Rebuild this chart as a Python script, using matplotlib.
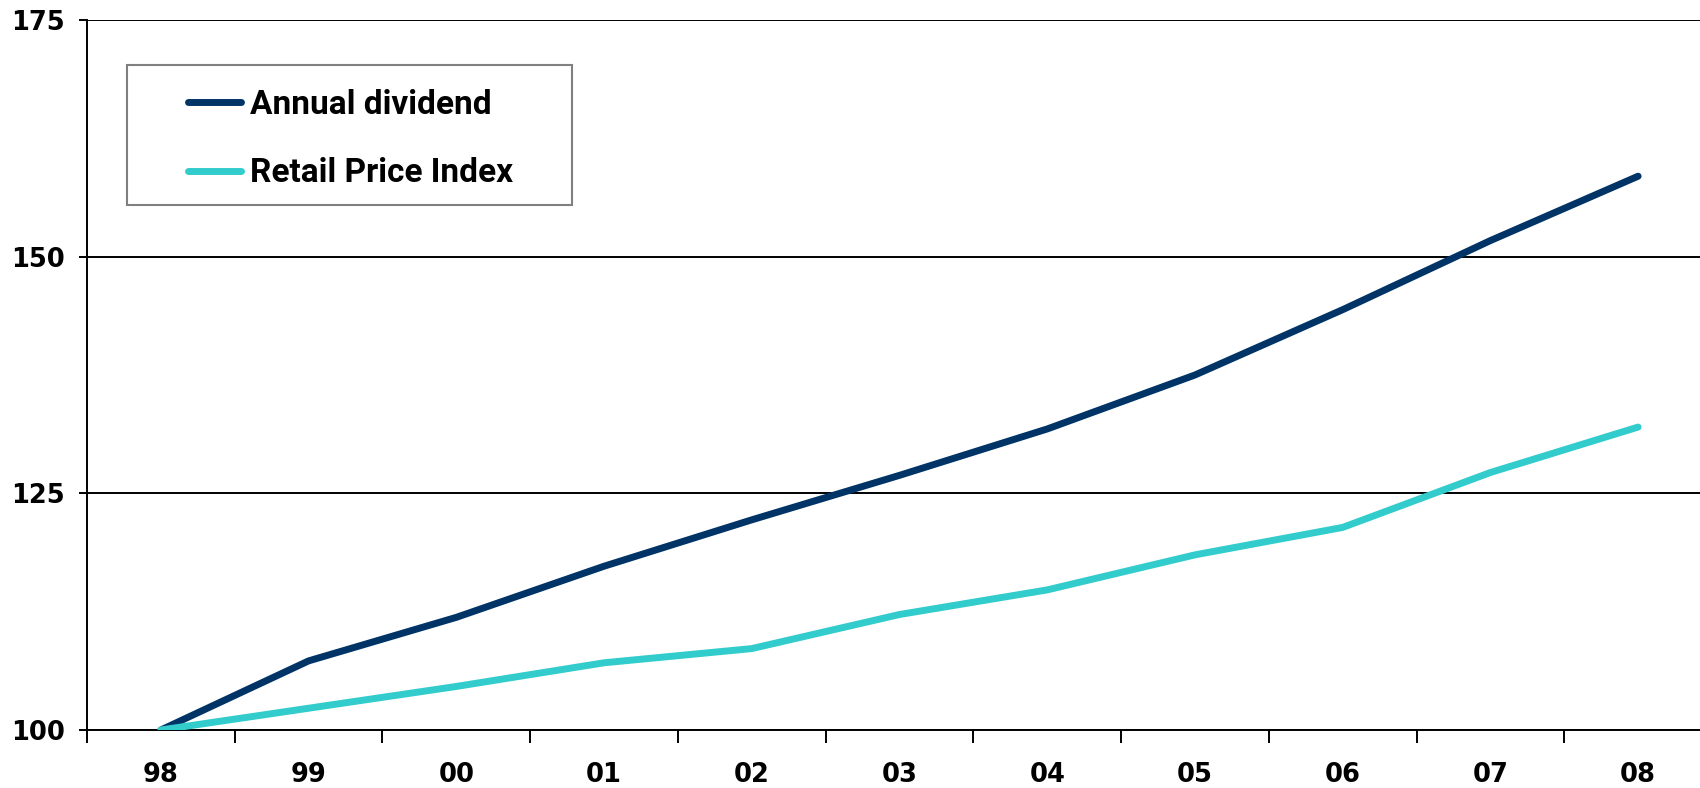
import numpy as np
import matplotlib
matplotlib.use("Agg")
import matplotlib.pyplot as plt
from matplotlib.lines import Line2D
from matplotlib.patches import Rectangle

plt.rcParams['font.family'] = ['DejaVu Sans']
plt.rcParams['font.weight'] = 'bold'

# Index values, 1998 = 100
years = ["98", "99", "00", "01", "02", "03", "04", "05", "06", "07", "08"]
annual_dividend = [100.0, 107.3, 111.9, 117.3, 122.2, 126.9, 131.8, 137.5, 144.4, 151.7, 158.5]
retail_price_index = [100.0, 102.3, 104.6, 107.1, 108.6, 112.2, 114.8, 118.5, 121.4, 127.2, 132.0]
series_labels = ["Annual dividend", "Retail Price Index"]
y_ticks = [100, 125, 150, 175]

navy = "#003366"
teal = "#33CCCC"
tick_font = ['DejaVu Sans']
legend_font = ['Roboto', 'Liberation Sans', 'DejaVu Sans']

W, H = 1700, 788
fig = plt.figure(figsize=(W / 100, H / 100), dpi=100)
ax = fig.add_axes([87 / W, 1 - 730 / H, 1625 / W, 710 / H])

x = np.arange(len(years))
ax.plot(x, annual_dividend, color=navy, lw=5, solid_capstyle='round', solid_joinstyle='round', zorder=3)
ax.plot(x, retail_price_index, color=teal, lw=5, solid_capstyle='round', solid_joinstyle='round', zorder=3)

ax.set_xlim(-0.5, len(years) - 0.5)
ax.set_ylim(100, 175)

# category axis: labels centred, tick marks between categories
ax.set_xticks(x)
ax.set_xticklabels(years, fontsize=18.5, fontweight='bold', family=tick_font)
ax.set_xticks(np.arange(-0.5, len(years)), minor=True)
ax.tick_params(axis='x', which='major', length=0, pad=23)
ax.tick_params(axis='x', which='minor', length=9, width=1.4, direction='out', color='black')

ax.set_yticks(y_ticks)
ax.set_yticklabels([str(v) for v in y_ticks], fontsize=18.5, fontweight='bold', family=tick_font)
ax.tick_params(axis='y', which='major', length=6, width=1.4, direction='out', pad=10, color='black')

ax.yaxis.grid(True, color='black', lw=1.4)
ax.set_axisbelow(True)
for s in ['top', 'right']:
    ax.spines[s].set_visible(False)
for s in ['left', 'bottom']:
    ax.spines[s].set_linewidth(1.4)
    ax.spines[s].set_color('black')

# legend box drawn in axes coordinates
def ax_xy(px, py):
    return ((px - 87) / 1625, (730 - py) / 710)

x0, y0 = ax_xy(127, 205)
x1, y1 = ax_xy(572, 65)
ax.add_patch(Rectangle((x0, y0), x1 - x0, y1 - y0, transform=ax.transAxes,
                       facecolor='white', edgecolor='#808080', lw=1.5, zorder=5))
for label, color, py, base in [(series_labels[0], navy, 102, 114), (series_labels[1], teal, 171, 182)]:
    lx0, ly = ax_xy(188, py)
    lx1, _ = ax_xy(241, py)
    ax.add_line(Line2D([lx0, lx1], [ly, ly], transform=ax.transAxes, color=color,
                       lw=5, solid_capstyle='round', zorder=6))
    tx, ty = ax_xy(250, base)
    ax.text(tx, ty, label, transform=ax.transAxes, fontsize=24, fontweight='bold',
            family=legend_font, va='baseline', ha='left', zorder=6)

fig.savefig("out.png", dpi=100)
